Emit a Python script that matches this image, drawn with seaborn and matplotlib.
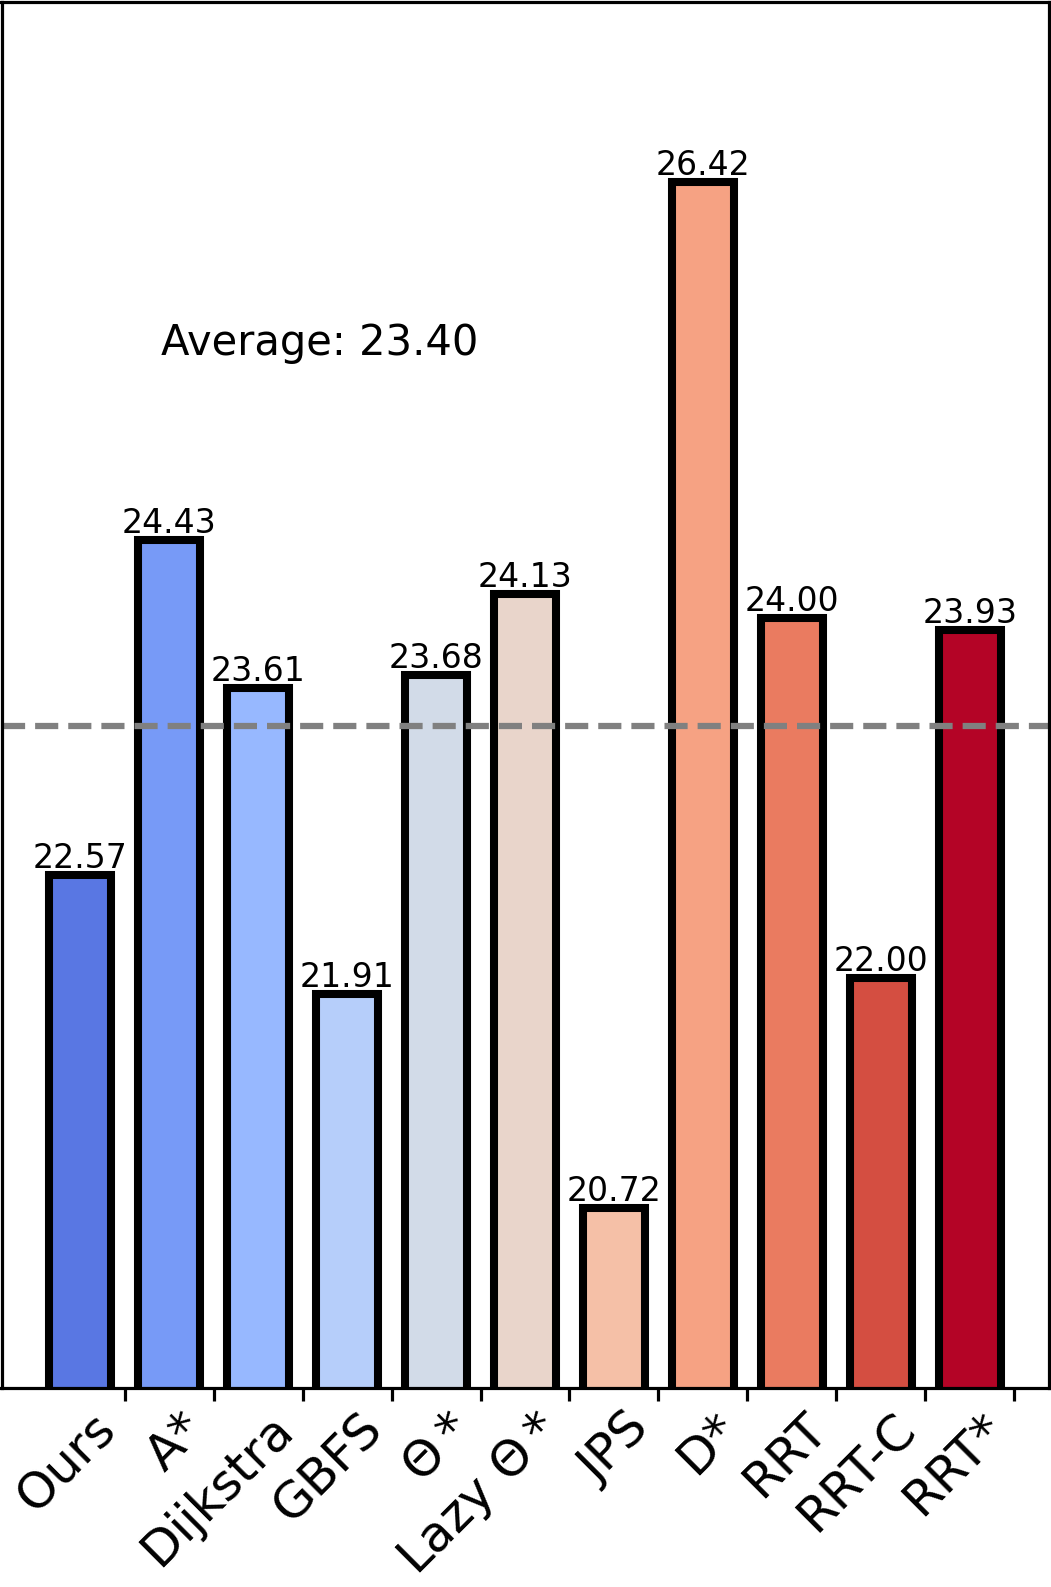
import matplotlib
matplotlib.use('Agg')
import matplotlib.pyplot as plt
import seaborn as sns
import numpy as np

# Path length per planner
methods = ['Ours', 'A*', 'Dijkstra', 'GBFS', r'$\Theta*$', r'Lazy $\Theta*$', 'JPS', 'D*', 'RRT', 'RRT-C', 'RRT*']
values = [22.57, 24.43, 23.61, 21.91, 23.68, 24.13, 20.72, 26.42, 24.00, 22.00, 23.93]

colors = [matplotlib.colors.to_hex(c) for c in plt.cm.coolwarm(np.linspace(0.1, 1.0, len(methods)))]
avg = np.mean(values)

fig = plt.figure(figsize=(10.51, 15.87), dpi=100)
ax = fig.add_axes([1.5 / 1051, 199 / 1587, 1047 / 1051, 1386 / 1587])

sns.barplot(x=methods, y=values, hue=methods, palette=colors, width=0.7,
            edgecolor='black', linewidth=5.8, saturation=1, legend=False, ax=ax)

# dashed average line
ax.axhline(avg, color='grey', linestyle='--', linewidth=4.5)
ax.text(0.304, 0.745, f'Average: {avg:.2f}', transform=ax.transAxes,
        ha='center', va='baseline', fontsize=30)

# value labels on top of bars
for i, v in enumerate(values):
    ax.text(i, v, f'{v:.2f}', ha='center', va='bottom', fontsize=23.9)

ax.set_ylim(min(values) - 1, max(values) + 1)
ax.set_xlim(-0.885, len(methods) - 1 + 0.885)
ax.set_yticks([])
ax.set_ylabel('')
ax.set_xticks(np.arange(len(methods)) + 0.5)
ax.set_xticklabels(methods, rotation=45, ha='right', fontsize=36.0)
ax.tick_params(axis='x', length=9.4, width=2.3, pad=2.5)
for s in ax.spines.values():
    s.set_linewidth(2.3)

fig.savefig('out.png', dpi=100)
